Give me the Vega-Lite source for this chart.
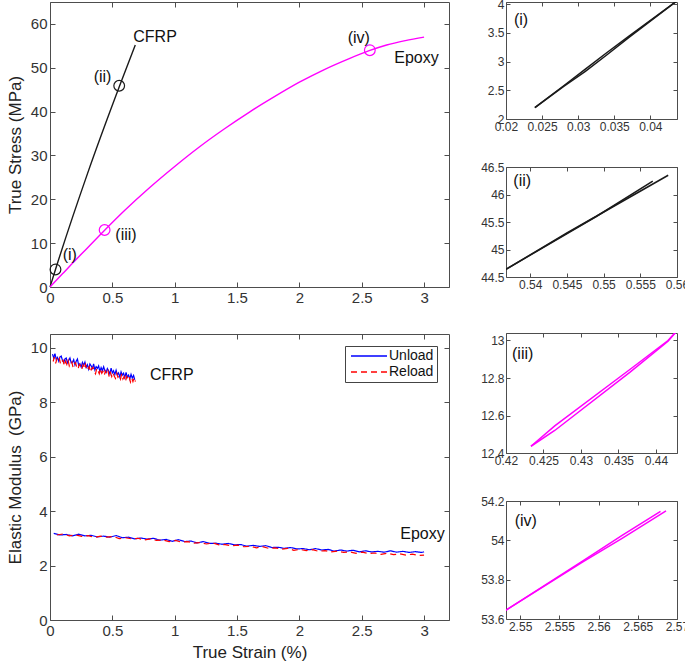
{
"$schema":"https://vega.github.io/schema/vega-lite/v6.json",
"padding":{"left":5,"top":-3,"right":0,"bottom":0},
"background":"white",
"config":{
 "font":"Liberation Sans",
 "view":{"stroke":"#4d4d4d","strokeWidth":1},
 "axis":{"domain":false,"grid":false,"tickColor":"#4d4d4d","tickSize":-5,"tickWidth":1,"labelColor":"#333333","labelFont":"Liberation Sans","labelFontSize":15,"labelPadding":8,"labelFlush":false,"labelOverlap":false,"labelExpr":"'' + datum.value","titleColor":"#222222","titleFont":"Liberation Sans","titleFontSize":17,"titleFontWeight":"normal","titlePadding":6},
 "legend":{"labelFontSize":14,"labelColor":"#111111","labelFont":"Liberation Sans","symbolType":"M-3,0H3","symbolSize":144,"symbolOffset":14,"labelOffset":13,"symbolStrokeWidth":1.5,"strokeColor":"#444444","fillColor":"white","padding":3,"rowPadding":2,"offset":12,"cornerRadius":0},
 "text":{"font":"Liberation Sans","fontSize":16,"color":"#111111"}
},
"datasets":{
 "stress":[
  {"material":"CFRP","strain":0,"stress":0},{"material":"CFRP","strain":0.044,"stress":4.0},{"material":"CFRP","strain":0.3,"stress":25.8},{"material":"CFRP","strain":0.56,"stress":46.0},{"material":"CFRP","strain":0.684,"stress":55.2},
  {"material":"Epoxy","strain":0,"stress":0},{"material":"Epoxy","strain":0.1,"stress":3.0},{"material":"Epoxy","strain":0.2,"stress":6.0},{"material":"Epoxy","strain":0.3,"stress":8.9},{"material":"Epoxy","strain":0.44,"stress":13.0},{"material":"Epoxy","strain":0.6,"stress":17.5},{"material":"Epoxy","strain":0.8,"stress":22.7},{"material":"Epoxy","strain":1.0,"stress":27.5},{"material":"Epoxy","strain":1.2,"stress":32.0},{"material":"Epoxy","strain":1.4,"stress":36.1},{"material":"Epoxy","strain":1.6,"stress":39.9},{"material":"Epoxy","strain":1.8,"stress":43.4},{"material":"Epoxy","strain":2.0,"stress":46.7},{"material":"Epoxy","strain":2.2,"stress":49.6},{"material":"Epoxy","strain":2.4,"stress":52.1},{"material":"Epoxy","strain":2.56,"stress":53.9},{"material":"Epoxy","strain":2.7,"stress":55.2},{"material":"Epoxy","strain":2.85,"stress":56.2},{"material":"Epoxy","strain":3.0,"stress":57.0}
 ],
 "markers":[
  {"material":"CFRP","strain":0.044,"stress":4.0},{"material":"CFRP","strain":0.555,"stress":45.9},
  {"material":"Epoxy","strain":0.438,"stress":13.0},{"material":"Epoxy","strain":2.565,"stress":54.0}
 ],
 "toplabels":[
  {"txt":"CFRP","strain":0.668,"stress":57.1},{"txt":"Epoxy","strain":2.761,"stress":52.2},{"txt":"(i)","strain":0.102,"stress":7.4},{"txt":"(ii)","strain":0.35,"stress":47.8},{"txt":"(iii)","strain":0.524,"stress":11.8},{"txt":"(iv)","strain":2.387,"stress":56.7}
 ],
 "botlabels":[
  {"txt":"CFRP","strain":0.802,"modulus":8.99},{"txt":"Epoxy","strain":2.809,"modulus":3.15}
 ],
 "modulus":[
  {"series":"Unload","material":"CFRP","strain":0.02,"modulus":9.76},{"series":"Unload","material":"CFRP","strain":0.03,"modulus":9.62},{"series":"Unload","material":"CFRP","strain":0.04,"modulus":9.78},{"series":"Unload","material":"CFRP","strain":0.05,"modulus":9.56},{"series":"Unload","material":"CFRP","strain":0.06,"modulus":9.64},{"series":"Unload","material":"CFRP","strain":0.07,"modulus":9.5},{"series":"Unload","material":"CFRP","strain":0.08,"modulus":9.66},{"series":"Unload","material":"CFRP","strain":0.09,"modulus":9.69},{"series":"Unload","material":"CFRP","strain":0.1,"modulus":9.53},{"series":"Unload","material":"CFRP","strain":0.11,"modulus":9.45},
  {"series":"Unload","material":"CFRP","strain":0.12,"modulus":9.59},{"series":"Unload","material":"CFRP","strain":0.13,"modulus":9.62},{"series":"Unload","material":"CFRP","strain":0.14,"modulus":9.44},{"series":"Unload","material":"CFRP","strain":0.15,"modulus":9.53},{"series":"Unload","material":"CFRP","strain":0.16,"modulus":9.62},{"series":"Unload","material":"CFRP","strain":0.17,"modulus":9.44},{"series":"Unload","material":"CFRP","strain":0.18,"modulus":9.46},{"series":"Unload","material":"CFRP","strain":0.19,"modulus":9.56},{"series":"Unload","material":"CFRP","strain":0.2,"modulus":9.36},{"series":"Unload","material":"CFRP","strain":0.21,"modulus":9.5},
  {"series":"Unload","material":"CFRP","strain":0.22,"modulus":9.58},{"series":"Unload","material":"CFRP","strain":0.23,"modulus":9.35},{"series":"Unload","material":"CFRP","strain":0.24,"modulus":9.41},{"series":"Unload","material":"CFRP","strain":0.25,"modulus":9.29},{"series":"Unload","material":"CFRP","strain":0.26,"modulus":9.46},{"series":"Unload","material":"CFRP","strain":0.27,"modulus":9.35},{"series":"Unload","material":"CFRP","strain":0.28,"modulus":9.47},{"series":"Unload","material":"CFRP","strain":0.29,"modulus":9.27},{"series":"Unload","material":"CFRP","strain":0.3,"modulus":9.37},{"series":"Unload","material":"CFRP","strain":0.31,"modulus":9.21},
  {"series":"Unload","material":"CFRP","strain":0.32,"modulus":9.4},{"series":"Unload","material":"CFRP","strain":0.33,"modulus":9.33},{"series":"Unload","material":"CFRP","strain":0.34,"modulus":9.24},{"series":"Unload","material":"CFRP","strain":0.35,"modulus":9.4},{"series":"Unload","material":"CFRP","strain":0.36,"modulus":9.18},{"series":"Unload","material":"CFRP","strain":0.37,"modulus":9.3},{"series":"Unload","material":"CFRP","strain":0.38,"modulus":9.24},{"series":"Unload","material":"CFRP","strain":0.39,"modulus":9.33},{"series":"Unload","material":"CFRP","strain":0.4,"modulus":9.12},{"series":"Unload","material":"CFRP","strain":0.41,"modulus":9.27},
  {"series":"Unload","material":"CFRP","strain":0.42,"modulus":9.15},{"series":"Unload","material":"CFRP","strain":0.43,"modulus":9.3},{"series":"Unload","material":"CFRP","strain":0.44,"modulus":9.15},{"series":"Unload","material":"CFRP","strain":0.45,"modulus":9.08},{"series":"Unload","material":"CFRP","strain":0.46,"modulus":9.23},{"series":"Unload","material":"CFRP","strain":0.47,"modulus":9.15},{"series":"Unload","material":"CFRP","strain":0.48,"modulus":9.03},{"series":"Unload","material":"CFRP","strain":0.49,"modulus":9.25},{"series":"Unload","material":"CFRP","strain":0.5,"modulus":9.07},{"series":"Unload","material":"CFRP","strain":0.51,"modulus":9.15},
  {"series":"Unload","material":"CFRP","strain":0.52,"modulus":9.01},{"series":"Unload","material":"CFRP","strain":0.53,"modulus":9.17},{"series":"Unload","material":"CFRP","strain":0.54,"modulus":9.0},{"series":"Unload","material":"CFRP","strain":0.55,"modulus":9.07},{"series":"Unload","material":"CFRP","strain":0.56,"modulus":8.92},{"series":"Unload","material":"CFRP","strain":0.57,"modulus":9.11},{"series":"Unload","material":"CFRP","strain":0.58,"modulus":8.99},{"series":"Unload","material":"CFRP","strain":0.59,"modulus":9.06},{"series":"Unload","material":"CFRP","strain":0.6,"modulus":8.9},{"series":"Unload","material":"CFRP","strain":0.61,"modulus":9.09},
  {"series":"Unload","material":"CFRP","strain":0.62,"modulus":8.92},{"series":"Unload","material":"CFRP","strain":0.63,"modulus":8.99},{"series":"Unload","material":"CFRP","strain":0.64,"modulus":8.85},{"series":"Unload","material":"CFRP","strain":0.65,"modulus":9.02},{"series":"Unload","material":"CFRP","strain":0.66,"modulus":8.88},{"series":"Unload","material":"CFRP","strain":0.67,"modulus":8.98},{"series":"Unload","material":"CFRP","strain":0.68,"modulus":8.82},
  {"series":"Unload","material":"Epoxy","strain":0.03,"modulus":3.18},{"series":"Unload","material":"Epoxy","strain":0.08,"modulus":3.12},{"series":"Unload","material":"Epoxy","strain":0.13,"modulus":3.14},{"series":"Unload","material":"Epoxy","strain":0.18,"modulus":3.09},{"series":"Unload","material":"Epoxy","strain":0.23,"modulus":3.15},{"series":"Unload","material":"Epoxy","strain":0.28,"modulus":3.09},{"series":"Unload","material":"Epoxy","strain":0.33,"modulus":3.11},{"series":"Unload","material":"Epoxy","strain":0.38,"modulus":3.05},{"series":"Unload","material":"Epoxy","strain":0.43,"modulus":3.08},{"series":"Unload","material":"Epoxy","strain":0.48,"modulus":3.04},{"series":"Unload","material":"Epoxy","strain":0.53,"modulus":3.1},{"series":"Unload","material":"Epoxy","strain":0.58,"modulus":3.02},{"series":"Unload","material":"Epoxy","strain":0.63,"modulus":3.04},{"series":"Unload","material":"Epoxy","strain":0.68,"modulus":2.98},{"series":"Unload","material":"Epoxy","strain":0.73,"modulus":3.01},{"series":"Unload","material":"Epoxy","strain":0.78,"modulus":2.97},{"series":"Unload","material":"Epoxy","strain":0.83,"modulus":3.0},{"series":"Unload","material":"Epoxy","strain":0.88,"modulus":2.93},{"series":"Unload","material":"Epoxy","strain":0.93,"modulus":2.96},{"series":"Unload","material":"Epoxy","strain":0.98,"modulus":2.89},{"series":"Unload","material":"Epoxy","strain":1.03,"modulus":2.95},{"series":"Unload","material":"Epoxy","strain":1.08,"modulus":2.88},{"series":"Unload","material":"Epoxy","strain":1.13,"modulus":2.9},{"series":"Unload","material":"Epoxy","strain":1.18,"modulus":2.83},{"series":"Unload","material":"Epoxy","strain":1.23,"modulus":2.88},{"series":"Unload","material":"Epoxy","strain":1.28,"modulus":2.81},{"series":"Unload","material":"Epoxy","strain":1.33,"modulus":2.82},{"series":"Unload","material":"Epoxy","strain":1.38,"modulus":2.78},{"series":"Unload","material":"Epoxy","strain":1.43,"modulus":2.81},{"series":"Unload","material":"Epoxy","strain":1.48,"modulus":2.76},{"series":"Unload","material":"Epoxy","strain":1.53,"modulus":2.77},{"series":"Unload","material":"Epoxy","strain":1.58,"modulus":2.71},{"series":"Unload","material":"Epoxy","strain":1.63,"modulus":2.74},{"series":"Unload","material":"Epoxy","strain":1.68,"modulus":2.7},{"series":"Unload","material":"Epoxy","strain":1.73,"modulus":2.73},{"series":"Unload","material":"Epoxy","strain":1.78,"modulus":2.66},{"series":"Unload","material":"Epoxy","strain":1.83,"modulus":2.67},{"series":"Unload","material":"Epoxy","strain":1.88,"modulus":2.63},{"series":"Unload","material":"Epoxy","strain":1.93,"modulus":2.66},{"series":"Unload","material":"Epoxy","strain":1.98,"modulus":2.61},{"series":"Unload","material":"Epoxy","strain":2.03,"modulus":2.62},{"series":"Unload","material":"Epoxy","strain":2.08,"modulus":2.58},{"series":"Unload","material":"Epoxy","strain":2.13,"modulus":2.62},{"series":"Unload","material":"Epoxy","strain":2.18,"modulus":2.57},{"series":"Unload","material":"Epoxy","strain":2.23,"modulus":2.59},{"series":"Unload","material":"Epoxy","strain":2.28,"modulus":2.53},{"series":"Unload","material":"Epoxy","strain":2.33,"modulus":2.57},{"series":"Unload","material":"Epoxy","strain":2.38,"modulus":2.53},{"series":"Unload","material":"Epoxy","strain":2.43,"modulus":2.56},{"series":"Unload","material":"Epoxy","strain":2.48,"modulus":2.5},{"series":"Unload","material":"Epoxy","strain":2.53,"modulus":2.54},{"series":"Unload","material":"Epoxy","strain":2.58,"modulus":2.5},{"series":"Unload","material":"Epoxy","strain":2.63,"modulus":2.52},{"series":"Unload","material":"Epoxy","strain":2.68,"modulus":2.49},{"series":"Unload","material":"Epoxy","strain":2.73,"modulus":2.54},{"series":"Unload","material":"Epoxy","strain":2.78,"modulus":2.49},{"series":"Unload","material":"Epoxy","strain":2.83,"modulus":2.52},{"series":"Unload","material":"Epoxy","strain":2.88,"modulus":2.48},{"series":"Unload","material":"Epoxy","strain":2.93,"modulus":2.51},{"series":"Unload","material":"Epoxy","strain":2.98,"modulus":2.48},{"series":"Unload","material":"Epoxy","strain":3.0,"modulus":2.5},
  {"series":"Reload","material":"CFRP","strain":0.025,"modulus":9.49},{"series":"Reload","material":"CFRP","strain":0.035,"modulus":9.65},{"series":"Reload","material":"CFRP","strain":0.045,"modulus":9.42},{"series":"Reload","material":"CFRP","strain":0.055,"modulus":9.57},{"series":"Reload","material":"CFRP","strain":0.065,"modulus":9.49},{"series":"Reload","material":"CFRP","strain":0.075,"modulus":9.6},{"series":"Reload","material":"CFRP","strain":0.085,"modulus":9.39},{"series":"Reload","material":"CFRP","strain":0.095,"modulus":9.49},{"series":"Reload","material":"CFRP","strain":0.105,"modulus":9.54},{"series":"Reload","material":"CFRP","strain":0.115,"modulus":9.33},
  {"series":"Reload","material":"CFRP","strain":0.125,"modulus":9.5},{"series":"Reload","material":"CFRP","strain":0.135,"modulus":9.38},{"series":"Reload","material":"CFRP","strain":0.145,"modulus":9.53},{"series":"Reload","material":"CFRP","strain":0.155,"modulus":9.32},{"series":"Reload","material":"CFRP","strain":0.165,"modulus":9.39},{"series":"Reload","material":"CFRP","strain":0.175,"modulus":9.47},{"series":"Reload","material":"CFRP","strain":0.185,"modulus":9.27},{"series":"Reload","material":"CFRP","strain":0.195,"modulus":9.4},{"series":"Reload","material":"CFRP","strain":0.205,"modulus":9.45},{"series":"Reload","material":"CFRP","strain":0.215,"modulus":9.27},
  {"series":"Reload","material":"CFRP","strain":0.225,"modulus":9.21},{"series":"Reload","material":"CFRP","strain":0.235,"modulus":9.38},{"series":"Reload","material":"CFRP","strain":0.245,"modulus":9.33},{"series":"Reload","material":"CFRP","strain":0.255,"modulus":9.2},{"series":"Reload","material":"CFRP","strain":0.265,"modulus":9.37},{"series":"Reload","material":"CFRP","strain":0.275,"modulus":9.23},{"series":"Reload","material":"CFRP","strain":0.285,"modulus":9.38},{"series":"Reload","material":"CFRP","strain":0.295,"modulus":9.17},{"series":"Reload","material":"CFRP","strain":0.305,"modulus":9.22},{"series":"Reload","material":"CFRP","strain":0.315,"modulus":9.3},
  {"series":"Reload","material":"CFRP","strain":0.325,"modulus":9.1},{"series":"Reload","material":"CFRP","strain":0.335,"modulus":9.24},{"series":"Reload","material":"CFRP","strain":0.345,"modulus":9.28},{"series":"Reload","material":"CFRP","strain":0.355,"modulus":9.12},{"series":"Reload","material":"CFRP","strain":0.365,"modulus":9.04},{"series":"Reload","material":"CFRP","strain":0.375,"modulus":9.24},{"series":"Reload","material":"CFRP","strain":0.385,"modulus":9.15},{"series":"Reload","material":"CFRP","strain":0.395,"modulus":9.04},{"series":"Reload","material":"CFRP","strain":0.405,"modulus":9.23},{"series":"Reload","material":"CFRP","strain":0.415,"modulus":9.06},
  {"series":"Reload","material":"CFRP","strain":0.425,"modulus":9.13},{"series":"Reload","material":"CFRP","strain":0.435,"modulus":8.98},{"series":"Reload","material":"CFRP","strain":0.445,"modulus":9.14},{"series":"Reload","material":"CFRP","strain":0.455,"modulus":9.04},{"series":"Reload","material":"CFRP","strain":0.465,"modulus":9.15},{"series":"Reload","material":"CFRP","strain":0.475,"modulus":8.92},{"series":"Reload","material":"CFRP","strain":0.485,"modulus":9.08},{"series":"Reload","material":"CFRP","strain":0.495,"modulus":8.94},{"series":"Reload","material":"CFRP","strain":0.505,"modulus":9.08},{"series":"Reload","material":"CFRP","strain":0.515,"modulus":8.96},
  {"series":"Reload","material":"CFRP","strain":0.525,"modulus":8.87},{"series":"Reload","material":"CFRP","strain":0.535,"modulus":9.06},{"series":"Reload","material":"CFRP","strain":0.545,"modulus":8.91},{"series":"Reload","material":"CFRP","strain":0.555,"modulus":8.96},{"series":"Reload","material":"CFRP","strain":0.565,"modulus":8.84},{"series":"Reload","material":"CFRP","strain":0.575,"modulus":9.04},{"series":"Reload","material":"CFRP","strain":0.585,"modulus":8.85},{"series":"Reload","material":"CFRP","strain":0.595,"modulus":8.94},{"series":"Reload","material":"CFRP","strain":0.605,"modulus":8.76},{"series":"Reload","material":"CFRP","strain":0.615,"modulus":8.94},
  {"series":"Reload","material":"CFRP","strain":0.625,"modulus":8.84},{"series":"Reload","material":"CFRP","strain":0.635,"modulus":8.93},{"series":"Reload","material":"CFRP","strain":0.645,"modulus":8.74},{"series":"Reload","material":"CFRP","strain":0.655,"modulus":8.88},{"series":"Reload","material":"CFRP","strain":0.665,"modulus":8.75},{"series":"Reload","material":"CFRP","strain":0.675,"modulus":8.9},{"series":"Reload","material":"CFRP","strain":0.685,"modulus":8.75},
  {"series":"Reload","material":"Epoxy","strain":0.055,"modulus":3.12},{"series":"Reload","material":"Epoxy","strain":0.105,"modulus":3.16},{"series":"Reload","material":"Epoxy","strain":0.155,"modulus":3.09},{"series":"Reload","material":"Epoxy","strain":0.205,"modulus":3.12},{"series":"Reload","material":"Epoxy","strain":0.255,"modulus":3.07},{"series":"Reload","material":"Epoxy","strain":0.305,"modulus":3.1},{"series":"Reload","material":"Epoxy","strain":0.355,"modulus":3.03},{"series":"Reload","material":"Epoxy","strain":0.405,"modulus":3.08},{"series":"Reload","material":"Epoxy","strain":0.455,"modulus":3.04},{"series":"Reload","material":"Epoxy","strain":0.505,"modulus":3.07},{"series":"Reload","material":"Epoxy","strain":0.555,"modulus":2.99},{"series":"Reload","material":"Epoxy","strain":0.605,"modulus":3.02},{"series":"Reload","material":"Epoxy","strain":0.655,"modulus":2.98},{"series":"Reload","material":"Epoxy","strain":0.705,"modulus":3.0},{"series":"Reload","material":"Epoxy","strain":0.755,"modulus":2.94},{"series":"Reload","material":"Epoxy","strain":0.805,"modulus":2.98},{"series":"Reload","material":"Epoxy","strain":0.855,"modulus":2.92},{"series":"Reload","material":"Epoxy","strain":0.905,"modulus":2.94},{"series":"Reload","material":"Epoxy","strain":0.955,"modulus":2.88},{"series":"Reload","material":"Epoxy","strain":1.005,"modulus":2.92},{"series":"Reload","material":"Epoxy","strain":1.055,"modulus":2.86},{"series":"Reload","material":"Epoxy","strain":1.105,"modulus":2.88},{"series":"Reload","material":"Epoxy","strain":1.155,"modulus":2.82},{"series":"Reload","material":"Epoxy","strain":1.205,"modulus":2.84},{"series":"Reload","material":"Epoxy","strain":1.255,"modulus":2.79},{"series":"Reload","material":"Epoxy","strain":1.305,"modulus":2.83},{"series":"Reload","material":"Epoxy","strain":1.355,"modulus":2.76},{"series":"Reload","material":"Epoxy","strain":1.405,"modulus":2.77},{"series":"Reload","material":"Epoxy","strain":1.455,"modulus":2.72},{"series":"Reload","material":"Epoxy","strain":1.505,"modulus":2.75},{"series":"Reload","material":"Epoxy","strain":1.555,"modulus":2.69},{"series":"Reload","material":"Epoxy","strain":1.605,"modulus":2.71},{"series":"Reload","material":"Epoxy","strain":1.655,"modulus":2.65},{"series":"Reload","material":"Epoxy","strain":1.705,"modulus":2.69},{"series":"Reload","material":"Epoxy","strain":1.755,"modulus":2.63},{"series":"Reload","material":"Epoxy","strain":1.805,"modulus":2.65},{"series":"Reload","material":"Epoxy","strain":1.855,"modulus":2.6},{"series":"Reload","material":"Epoxy","strain":1.905,"modulus":2.63},{"series":"Reload","material":"Epoxy","strain":1.955,"modulus":2.56},{"series":"Reload","material":"Epoxy","strain":2.005,"modulus":2.59},{"series":"Reload","material":"Epoxy","strain":2.055,"modulus":2.55},{"series":"Reload","material":"Epoxy","strain":2.105,"modulus":2.58},{"series":"Reload","material":"Epoxy","strain":2.155,"modulus":2.52},{"series":"Reload","material":"Epoxy","strain":2.205,"modulus":2.55},{"series":"Reload","material":"Epoxy","strain":2.255,"modulus":2.5},{"series":"Reload","material":"Epoxy","strain":2.305,"modulus":2.53},{"series":"Reload","material":"Epoxy","strain":2.355,"modulus":2.48},{"series":"Reload","material":"Epoxy","strain":2.405,"modulus":2.5},{"series":"Reload","material":"Epoxy","strain":2.455,"modulus":2.45},{"series":"Reload","material":"Epoxy","strain":2.505,"modulus":2.49},{"series":"Reload","material":"Epoxy","strain":2.555,"modulus":2.44},{"series":"Reload","material":"Epoxy","strain":2.605,"modulus":2.46},{"series":"Reload","material":"Epoxy","strain":2.655,"modulus":2.41},{"series":"Reload","material":"Epoxy","strain":2.705,"modulus":2.45},{"series":"Reload","material":"Epoxy","strain":2.755,"modulus":2.4},{"series":"Reload","material":"Epoxy","strain":2.805,"modulus":2.43},{"series":"Reload","material":"Epoxy","strain":2.855,"modulus":2.38},{"series":"Reload","material":"Epoxy","strain":2.905,"modulus":2.42},{"series":"Reload","material":"Epoxy","strain":2.955,"modulus":2.37},{"series":"Reload","material":"Epoxy","strain":3.0,"modulus":2.38}
 ],
 "loop_i":[
  {"branch":"A","strain":0.024,"stress":2.2},{"branch":"A","strain":0.028,"stress":2.58},{"branch":"A","strain":0.031,"stress":2.87},{"branch":"A","strain":0.034,"stress":3.16},{"branch":"A","strain":0.037,"stress":3.44},{"branch":"A","strain":0.0437,"stress":4.06},
  {"branch":"B","strain":0.024,"stress":2.2},{"branch":"B","strain":0.028,"stress":2.57},{"branch":"B","strain":0.031,"stress":2.83},{"branch":"B","strain":0.034,"stress":3.12},{"branch":"B","strain":0.037,"stress":3.42},{"branch":"B","strain":0.0437,"stress":4.06}
 ],
 "loop_ii":[
  {"branch":"A","strain":0.5367,"stress":44.64},{"branch":"A","strain":0.545,"stress":45.3},{"branch":"A","strain":0.5588,"stress":46.35},
  {"branch":"B","strain":0.5367,"stress":44.64},{"branch":"B","strain":0.549,"stress":45.6},{"branch":"B","strain":0.5567,"stress":46.245}
 ],
 "loop_iii":[
  {"branch":"A","strain":0.42333,"stress":12.436},{"branch":"A","strain":0.4265,"stress":12.52},{"branch":"A","strain":0.4365,"stress":12.83},{"branch":"A","strain":0.4416,"stress":12.996},{"branch":"A","strain":0.4432,"stress":13.07},
  {"branch":"B","strain":0.42333,"stress":12.436},{"branch":"B","strain":0.4265,"stress":12.545},{"branch":"B","strain":0.437,"stress":12.86},{"branch":"B","strain":0.4416,"stress":13.0},{"branch":"B","strain":0.4432,"stress":13.07}
 ],
 "loop_iv":[
  {"branch":"A","strain":2.5478,"stress":53.635},{"branch":"A","strain":2.558,"stress":53.89},{"branch":"A","strain":2.563,"stress":54.01},{"branch":"A","strain":2.5686,"stress":54.15},
  {"branch":"B","strain":2.5478,"stress":53.635},{"branch":"B","strain":2.558,"stress":53.895},{"branch":"B","strain":2.563,"stress":54.025},{"branch":"B","strain":2.5679,"stress":54.147}
 ]
},
"hconcat":[
 {"vconcat":[
  {"width":399,"height":285,
   "layer":[
    {"data":{"name":"stress"},"mark":{"type":"line","strokeWidth":1.4,"interpolate":"monotone"},
     "encoding":{
      "x":{"field":"strain","type":"quantitative","scale":{"domain":[0,3.2],"nice":false},"axis":{"orient":"bottom","values":[0,0.5,1,1.5,2,2.5,3],"title":null}},
      "y":{"field":"stress","type":"quantitative","scale":{"domain":[0,65],"nice":false},"axis":{"orient":"left","values":[0,10,20,30,40,50,60],"title":"True Stress (MPa)"}},
      "color":{"field":"material","type":"nominal","scale":{"domain":["CFRP","Epoxy"],"range":["#1a1a1a","#ff00ff"]},"legend":null},
      "detail":{"field":"material"}}},
    {"data":{"name":"stress"},"mark":{"type":"line","strokeOpacity":0},
     "encoding":{
      "x":{"field":"strain","type":"quantitative","scale":{"domain":[0,3.2],"nice":false},"axis":{"orient":"top","values":[0,0.5,1,1.5,2,2.5,3],"labels":false,"title":null}},
      "y":{"field":"stress","type":"quantitative","scale":{"domain":[0,65],"nice":false},"axis":{"orient":"right","values":[0,10,20,30,40,50,60],"labels":false,"title":null}},
      "detail":{"field":"material"}}},
    {"data":{"name":"markers"},"mark":{"type":"point","shape":"circle","filled":false,"size":115,"strokeWidth":1.2,"opacity":1},
     "encoding":{
      "x":{"field":"strain","type":"quantitative","scale":{"domain":[0,3.2],"nice":false},"axis":null},
      "y":{"field":"stress","type":"quantitative","scale":{"domain":[0,65],"nice":false},"axis":null},
      "color":{"field":"material","type":"nominal","legend":null}}},
    {"data":{"name":"toplabels"},"mark":{"type":"text","align":"left","baseline":"middle"},
     "encoding":{
      "x":{"field":"strain","type":"quantitative","scale":{"domain":[0,3.2],"nice":false},"axis":null},
      "y":{"field":"stress","type":"quantitative","scale":{"domain":[0,65],"nice":false},"axis":null},
      "text":{"field":"txt"}}}
   ],
   "resolve":{"axis":{"x":"independent","y":"independent"}}
  },
  {"width":399,"height":286,
   "layer":[
    {"data":{"name":"modulus"},"mark":{"type":"line","strokeWidth":1.2},
     "encoding":{
      "x":{"field":"strain","type":"quantitative","scale":{"domain":[0,3.2],"nice":false},"axis":{"orient":"bottom","values":[0,0.5,1,1.5,2,2.5,3],"title":"True Strain (%)"}},
      "y":{"field":"modulus","type":"quantitative","scale":{"domain":[0,10.5],"nice":false},"axis":{"orient":"left","values":[0,2,4,6,8,10],"title":"Elastic Modulus\u00a0 (GPa)"}},
      "color":{"field":"series","type":"nominal","scale":{"domain":["Unload","Reload"],"range":["#0000ff","#ff0000"]},"legend":{"orient":"top-right","title":null}},
      "strokeDash":{"field":"series","type":"nominal","scale":{"domain":["Unload","Reload"],"range":[[1,0],[6,4]]},"legend":{"orient":"top-right","title":null}},
      "detail":{"field":"material"}}},
    {"data":{"name":"modulus"},"mark":{"type":"line","strokeOpacity":0},
     "encoding":{
      "x":{"field":"strain","type":"quantitative","scale":{"domain":[0,3.2],"nice":false},"axis":{"orient":"top","values":[0,0.5,1,1.5,2,2.5,3],"labels":false,"title":null}},
      "y":{"field":"modulus","type":"quantitative","scale":{"domain":[0,10.5],"nice":false},"axis":{"orient":"right","values":[0,2,4,6,8,10],"labels":false,"title":null}},
      "detail":{"field":"material"}}},
    {"data":{"name":"botlabels"},"mark":{"type":"text","align":"left","baseline":"middle"},
     "encoding":{
      "x":{"field":"strain","type":"quantitative","scale":{"domain":[0,3.2],"nice":false},"axis":null},
      "y":{"field":"modulus","type":"quantitative","scale":{"domain":[0,10.5],"nice":false},"axis":null},
      "text":{"field":"txt"}}}
   ],
   "resolve":{"axis":{"x":"independent","y":"independent"}}
  }
 ],"spacing":27,
 "resolve":{"scale":{"color":"independent","strokeDash":"independent"},"legend":{"color":"independent","strokeDash":"independent"}}},
 {"vconcat":[
  {"width":171,"height":117,
   "layer":[
    {"data":{"name":"loop_i"},"mark":{"type":"line","strokeWidth":1.5,"color":"#1a1a1a","clip":true},
     "encoding":{
      "x":{"field":"strain","type":"quantitative","scale":{"domain":[0.02,0.0437],"nice":false,"zero":false},"axis":{"orient":"bottom","values":[0.02,0.025,0.03,0.035,0.04],"title":null,"labelFontSize":12,"tickSize":-4,"labelPadding":6}},
      "y":{"field":"stress","type":"quantitative","scale":{"domain":[2,4.04],"nice":false,"zero":false},"axis":{"orient":"left","values":[2,2.5,3,3.5,4],"title":null,"labelFontSize":12,"tickSize":-4,"labelPadding":6}},
      "detail":{"field":"branch"}}},
    {"data":{"name":"loop_i"},"mark":{"type":"line","strokeOpacity":0,"clip":true},
     "encoding":{
      "x":{"field":"strain","type":"quantitative","scale":{"domain":[0.02,0.0437],"nice":false,"zero":false},"axis":{"orient":"top","values":[0.02,0.025,0.03,0.035,0.04],"labels":false,"title":null,"tickSize":-4}},
      "y":{"field":"stress","type":"quantitative","scale":{"domain":[2,4.04],"nice":false,"zero":false},"axis":{"orient":"right","values":[2,2.5,3,3.5,4],"labels":false,"title":null,"tickSize":-4}},
      "detail":{"field":"branch"}}},
    {"data":{"values":[{"txt":"(i)","strain":0.0211,"stress":3.72}]},"mark":{"type":"text","align":"left","baseline":"middle"},
     "encoding":{
      "x":{"field":"strain","type":"quantitative","scale":{"domain":[0.02,0.0437],"nice":false,"zero":false},"axis":null},
      "y":{"field":"stress","type":"quantitative","scale":{"domain":[2,4.04],"nice":false,"zero":false},"axis":null},
      "text":{"field":"txt"}}}
   ],
   "resolve":{"axis":{"x":"independent","y":"independent"}}
  },
  {"width":171,"height":110,
   "layer":[
    {"data":{"name":"loop_ii"},"mark":{"type":"line","strokeWidth":1.5,"color":"#1a1a1a","clip":true},
     "encoding":{
      "x":{"field":"strain","type":"quantitative","scale":{"domain":[0.5367,0.56],"nice":false,"zero":false},"axis":{"orient":"bottom","values":[0.54,0.545,0.55,0.555,0.56],"title":null,"labelFontSize":12,"tickSize":-4,"labelPadding":6}},
      "y":{"field":"stress","type":"quantitative","scale":{"domain":[44.5,46.5],"nice":false,"zero":false},"axis":{"orient":"left","values":[44.5,45,45.5,46,46.5],"title":null,"labelFontSize":12,"tickSize":-4,"labelPadding":6}},
      "detail":{"field":"branch"}}},
    {"data":{"name":"loop_ii"},"mark":{"type":"line","strokeOpacity":0,"clip":true},
     "encoding":{
      "x":{"field":"strain","type":"quantitative","scale":{"domain":[0.5367,0.56],"nice":false,"zero":false},"axis":{"orient":"top","values":[0.54,0.545,0.55,0.555,0.56],"labels":false,"title":null,"tickSize":-4}},
      "y":{"field":"stress","type":"quantitative","scale":{"domain":[44.5,46.5],"nice":false,"zero":false},"axis":{"orient":"right","values":[44.5,45,45.5,46,46.5],"labels":false,"title":null,"tickSize":-4}},
      "detail":{"field":"branch"}}},
    {"data":{"values":[{"txt":"(ii)","strain":0.5377,"stress":46.24}]},"mark":{"type":"text","align":"left","baseline":"middle"},
     "encoding":{
      "x":{"field":"strain","type":"quantitative","scale":{"domain":[0.5367,0.56],"nice":false,"zero":false},"axis":null},
      "y":{"field":"stress","type":"quantitative","scale":{"domain":[44.5,46.5],"nice":false,"zero":false},"axis":null},
      "text":{"field":"txt"}}}
   ],
   "resolve":{"axis":{"x":"independent","y":"independent"}}
  },
  {"width":171,"height":120,
   "layer":[
    {"data":{"name":"loop_iii"},"mark":{"type":"line","strokeWidth":1.5,"color":"#ff00ff","clip":true},
     "encoding":{
      "x":{"field":"strain","type":"quantitative","scale":{"domain":[0.42,0.4428],"nice":false,"zero":false},"axis":{"orient":"bottom","values":[0.42,0.425,0.43,0.435,0.44],"title":null,"labelFontSize":12,"tickSize":-4,"labelPadding":6}},
      "y":{"field":"stress","type":"quantitative","scale":{"domain":[12.4,13.04],"nice":false,"zero":false},"axis":{"orient":"left","values":[12.4,12.6,12.8,13],"title":null,"labelFontSize":12,"tickSize":-4,"labelPadding":6}},
      "detail":{"field":"branch"}}},
    {"data":{"name":"loop_iii"},"mark":{"type":"line","strokeOpacity":0,"clip":true},
     "encoding":{
      "x":{"field":"strain","type":"quantitative","scale":{"domain":[0.42,0.4428],"nice":false,"zero":false},"axis":{"orient":"top","values":[0.42,0.425,0.43,0.435,0.44],"labels":false,"title":".","titleFontSize":2,"titlePadding":11.5,"titleOpacity":0,"tickSize":-4}},
      "y":{"field":"stress","type":"quantitative","scale":{"domain":[12.4,13.04],"nice":false,"zero":false},"axis":{"orient":"right","values":[12.4,12.6,12.8,13],"labels":false,"title":null,"tickSize":-4}},
      "detail":{"field":"branch"}}},
    {"data":{"values":[{"txt":"(iii)","strain":0.4208,"stress":12.93}]},"mark":{"type":"text","align":"left","baseline":"middle"},
     "encoding":{
      "x":{"field":"strain","type":"quantitative","scale":{"domain":[0.42,0.4428],"nice":false,"zero":false},"axis":null},
      "y":{"field":"stress","type":"quantitative","scale":{"domain":[12.4,13.04],"nice":false,"zero":false},"axis":null},
      "text":{"field":"txt"}}}
   ],
   "resolve":{"axis":{"x":"independent","y":"independent"}}
  },
  {"width":171,"height":118,
   "layer":[
    {"data":{"name":"loop_iv"},"mark":{"type":"line","strokeWidth":1.5,"color":"#ff00ff","clip":true},
     "encoding":{
      "x":{"field":"strain","type":"quantitative","scale":{"domain":[2.5482,2.57],"nice":false,"zero":false},"axis":{"orient":"bottom","values":[2.55,2.555,2.56,2.565,2.57],"title":null,"labelFontSize":12,"tickSize":-4,"labelPadding":6}},
      "y":{"field":"stress","type":"quantitative","scale":{"domain":[53.6,54.2],"nice":false,"zero":false},"axis":{"orient":"left","values":[53.6,53.8,54,54.2],"title":null,"labelFontSize":12,"tickSize":-4,"labelPadding":6}},
      "detail":{"field":"branch"}}},
    {"data":{"name":"loop_iv"},"mark":{"type":"line","strokeOpacity":0,"clip":true},
     "encoding":{
      "x":{"field":"strain","type":"quantitative","scale":{"domain":[2.5482,2.57],"nice":false,"zero":false},"axis":{"orient":"top","values":[2.55,2.555,2.56,2.565,2.57],"labels":false,"title":null,"tickSize":-4}},
      "y":{"field":"stress","type":"quantitative","scale":{"domain":[53.6,54.2],"nice":false,"zero":false},"axis":{"orient":"right","values":[53.6,53.8,54,54.2],"labels":false,"title":null,"tickSize":-4}},
      "detail":{"field":"branch"}}},
    {"data":{"values":[{"txt":"(iv)","strain":2.5493,"stress":54.1}]},"mark":{"type":"text","align":"left","baseline":"middle"},
     "encoding":{
      "x":{"field":"strain","type":"quantitative","scale":{"domain":[2.5482,2.57],"nice":false,"zero":false},"axis":null},
      "y":{"field":"stress","type":"quantitative","scale":{"domain":[53.6,54.2],"nice":false,"zero":false},"axis":null},
      "text":{"field":"txt"}}}
   ],
   "resolve":{"axis":{"x":"independent","y":"independent"}}
  }
 ],"spacing":27}
],
"spacing":30
}
